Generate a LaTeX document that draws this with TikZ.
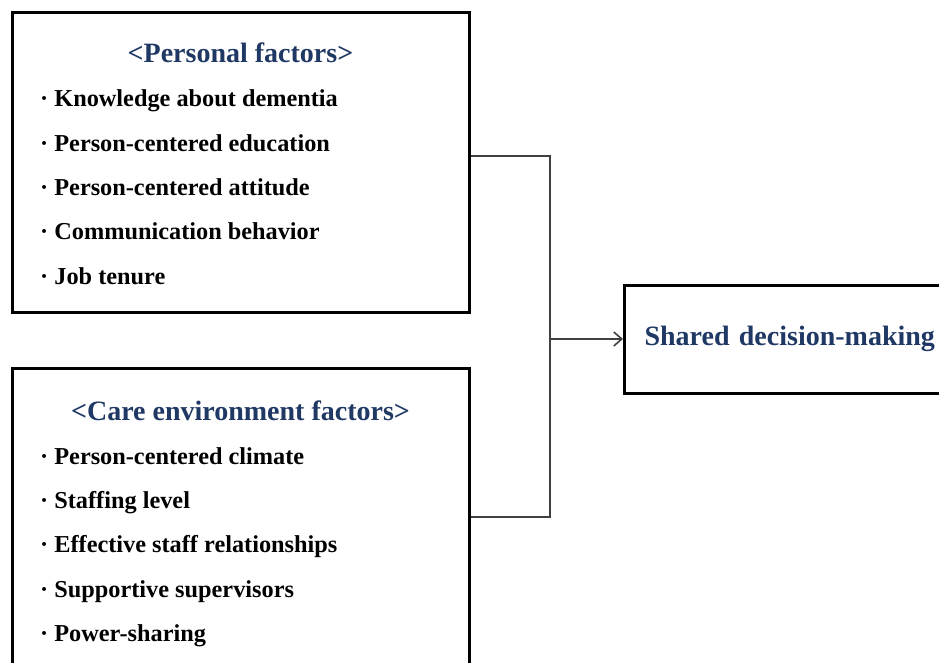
\documentclass[tikz,border=0pt]{standalone}
\usepackage{fontspec}
\setmainfont{Liberation Serif}
\usetikzlibrary{arrows.meta,positioning}
\definecolor{headblue}{RGB}{31,56,100}
\tikzset{
  factorbox/.style={draw=black, line width=3pt, inner sep=0pt},
  head/.style={font=\fontsize{28}{33}\selectfont\bfseries, text=headblue, inner sep=0pt, anchor=base},
  item/.style={font=\fontsize{24.3}{29}\selectfont\bfseries, inner sep=0pt, anchor=base west},
  link/.style={draw=black!75, line width=1.6pt},
}
\begin{document}
\begin{tikzpicture}[x=1pt,y=-1pt]
\useasboundingbox (0,0) rectangle (939,662);
% Factor boxes
\node[factorbox, minimum width=457pt, minimum height=300pt] (personal) at (240.5,162) {};
\node[factorbox, minimum width=457pt, minimum height=298pt] (care) at (240.5,517) {};
\node[factorbox, anchor=west, minimum height=108pt, text width=340pt, inner xsep=20pt, align=left,
      font=\fontsize{28}{33}\selectfont\bfseries, text=headblue] (sdm) at (623,339) {Shared decision-making};
% Box headings
     \node[head] (personalhead) at (240.5,62) {<Personal factors>};
     \node[head] (carehead) at (240.5,420) {<Care environment factors>};
     % Listed factors
     \foreach \t [count=\i] in {Knowledge about dementia, Person-centered education,
         Person-centered attitude, Communication behavior, Job tenure}
         \node[item] (pf\i) at (40,{62.5+44.3*\i}) {· \t};
     \foreach \t [count=\i] in {Person-centered climate, Staffing level,
         Effective staff relationships, Supportive supervisors, Power-sharing}
         \node[item] (cf\i) at (40,{420+44.3*\i}) {· \t};
     % Joining lines
     \coordinate (join) at (550,339);
     \draw[link] ([yshift=6pt]personal.east) -| (join) |- (care.east);
     \draw[link, -{Straight Barb[length=8pt,width=14pt]}] (join) -- (sdm.west);
\end{tikzpicture}
\end{document}
